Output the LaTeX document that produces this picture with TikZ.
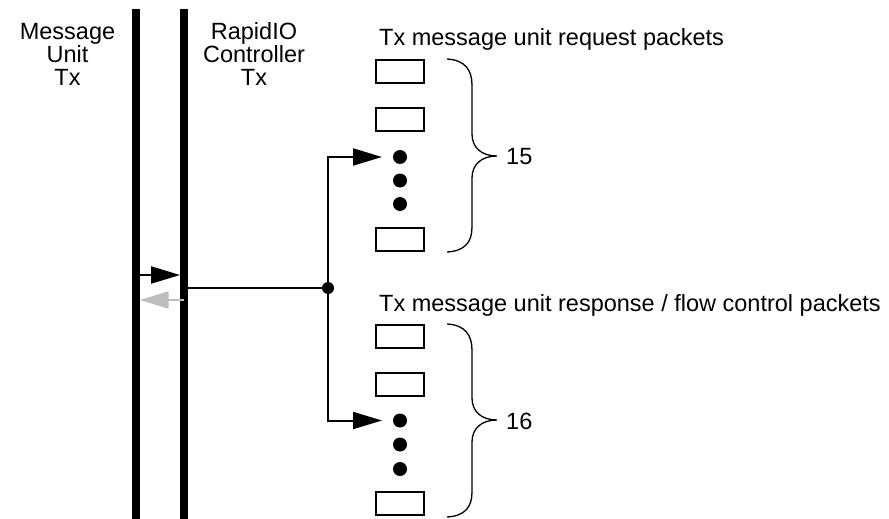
\documentclass[tikz,border=0pt]{standalone}
\usepackage{fontspec}
\setmainfont{Liberation Sans}
\usetikzlibrary{arrows.meta,calc}
\begin{document}
\begin{tikzpicture}[x=1pt,y=-1pt,
  lbl/.style={inner sep=0pt,font=\fontsize{23.5}{23}\selectfont},
  bar/.style={fill=black,draw=none,inner sep=0pt,minimum width=7.5pt,minimum height=510pt},
  pkt/.style={draw=black,line width=2pt,inner sep=0pt,minimum width=48pt,minimum height=23pt},
  pdot/.style={circle,fill=black,inner sep=0pt,minimum size=14pt},
  jdot/.style={circle,fill=black,inner sep=0pt,minimum size=12pt},
  conn/.style={line width=2pt},
  tip/.style={-{Triangle[length=29pt,width=17pt]}},
  brc/.style={line width=1.3pt}]
\useasboundingbox (0,0) rectangle (889,519);
% labels
\node[lbl,align=center,anchor=north] (mulbl) at (67.5,23.5) {Message\\Unit\\Tx};
\node[lbl,align=center,anchor=north] (rclbl) at (254,22) {RapidIO\\Controller\\Tx};
\node[lbl,anchor=base west] (reqlbl) at (379,46) {Tx message unit request packets};
\node[lbl,anchor=base west] (rsplbl) at (379,311) {Tx message unit response / flow control packets};
% bars
\node[bar] (mubar) at (135.75,264) {};
\node[bar] (rcbar) at (184,264) {};
% request packets
\node[pkt] (q1) at (400,71.5) {};
\node[pkt] (q2) at (400,119.5) {};
\node[pdot] (qd1) at (400,157) {};
\node[pdot] (qd2) at (400,180.5) {};
\node[pdot] (qd3) at (400,204) {};
\node[pkt] (q3) at (400,239.5) {};
% response packets
\node[pkt] (r1) at (400,336.5) {};
\node[pkt] (r2) at (400,384) {};
\node[pdot] (rd1) at (400,420.5) {};
\node[pdot] (rd2) at (400,444.5) {};
\node[pdot] (rd3) at (400,469) {};
\node[pkt] (r3) at (400,503.5) {};
% junction
\node[jdot] (j) at (328,288) {};
% connectors
\draw[conn,tip] (mubar.east |- 0,275) -- (rcbar.west |- 0,275);
\draw[conn,tip,draw={rgb,255:red,190;green,190;blue,190}] (rcbar.center |- 0,300) -- (mubar.east |- 0,300);
\draw[conn] (rcbar.east |- j) -- (j.center);
\draw[conn,tip,shorten >=18pt] (j.center) |- (qd1.center);
\draw[conn,tip,shorten >=18pt] (j.center) |- (rd1.center);
% braces
\draw[brc] (447,59) .. controls (465,60) and (472,70) .. (472,85)
  -- (472,134) .. controls (472,148) and (482,156) .. (497,156)
  .. controls (482,156) and (472,164) .. (472,178)
  -- (472,227) .. controls (472,242) and (465,251) .. (447,252);
\draw[brc] (447,324) .. controls (465,325) and (472,335) .. (472,350)
  -- (472,398) .. controls (472,412) and (482,420) .. (497,420)
  .. controls (482,420) and (472,428) .. (472,442)
  -- (472,492) .. controls (472,507) and (465,516) .. (447,517);
\node[lbl,anchor=west] (n15) at (506,157) {15};
\node[lbl,anchor=west] (n16) at (506,421) {16};
\end{tikzpicture}
\end{document}
